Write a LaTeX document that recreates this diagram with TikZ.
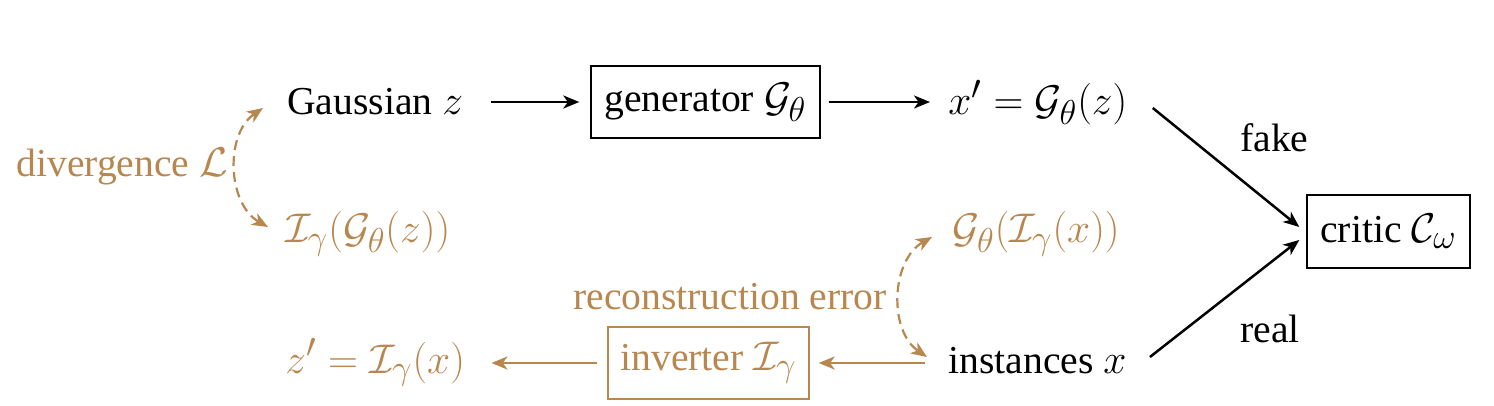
\documentclass[tikz,border=0pt]{standalone}
\usepackage{fontspec}
\setmainfont{Liberation Serif}
\usetikzlibrary{arrows.meta,calc}
\definecolor{mybrown}{RGB}{184,135,80}
\newcommand{\mth}[1]{{\fontsize{22.8}{26}\selectfont$#1$}}
\tikzset{
  txt/.style={inner sep=0pt, anchor=base west, font=\fontsize{19.8}{23}\selectfont},
  boxed/.style={draw, line width=0.7pt, inner sep=0pt, font=\fontsize{19.8}{23}\selectfont},
  tip/.tip={Stealth[length=8pt,width=6.5pt,inset=2.3pt]},
  arr/.style={line width=1.25pt, -tip},
  carr/.style={arr, mybrown},
  darr/.style={mybrown, line width=1.1pt, dash pattern=on 5pt off 3pt, tip-tip},
}
\begin{document}
\begin{tikzpicture}[x=0.5pt,y=-0.5pt]
\useasboundingbox (0,0) rectangle (1494,406);
% row 1
\node[txt] (gauss) at (287,115) {Gaussian \mth{z}};
\node[boxed, minimum width=114.5pt, minimum height=36pt] (gen) at (705.5,102) {generator \mth{\mathcal{G}_\theta}};
\node[txt] (xp) at (948,115) {\mth{x' = \mathcal{G}_\theta(z)}};
% row 2
\node[txt, mybrown] (igz) at (285,243) {\mth{\mathcal{I}_\gamma(\mathcal{G}_\theta(z))}};
\node[txt, mybrown] (gix) at (952,243) {\mth{\mathcal{G}_\theta(\mathcal{I}_\gamma(x))}};
\node[boxed, minimum width=81.5pt, minimum height=36.5pt] (critic) at (1388.5,231.5) {critic \mth{\mathcal{C}_\omega}};
% row 3
\node[txt, mybrown] (zp) at (285,373) {\mth{z' = \mathcal{I}_\gamma(x)}};
\node[boxed, mybrown, minimum width=100.5pt, minimum height=36pt] (inv) at (708.5,363) {inverter \mth{\mathcal{I}_\gamma}};
\node[txt] (inst) at (948,373) {instances \mth{x}};
% labels
\node[txt, mybrown] (div) at (16,177) {divergence \mth{\mathcal{L}}};
\node[txt, mybrown] (rec) at (573,310) {reconstruction error};
\node[txt] (fake) at (1240,152) {fake};
\node[txt] (real) at (1240,343) {real};
% connectors
\draw[arr, shorten <=13.5pt, shorten >=5.5pt] (gen.west -| gauss.east) -- (gen.west);
\draw[arr, shorten <=4pt, shorten >=9pt] (gen.east) -- (gen.east -| xp.west);
\draw[carr, shorten <=11.5pt, shorten >=4.5pt] (inv.east -| inst.west) -- (inv.east);
\draw[carr, shorten <=5pt, shorten >=13pt] (inv.west) -- (inv.west -| zp.east);
\draw[arr] ($(xp.base east)+(25,-7)$) -- ($(critic.west)+(-7,-4.5)$);
\draw[arr] ($(inst.base east)+(23,-16)$) -- ($(critic.west)+(-7,8.5)$);
\draw[darr] ($(gauss.base west)+(-24,-7)$) to[bend right=58] ($(igz.base west)+(-17,-16)$);
\draw[darr] ($(gix.base west)+(-20,-6)$) to[bend right=58] ($(inst.base west)+(-21,-16)$);
\end{tikzpicture}
\end{document}
